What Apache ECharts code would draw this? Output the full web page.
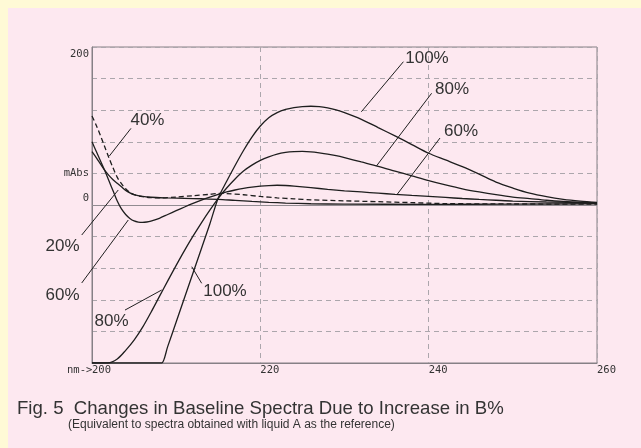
<!DOCTYPE html>
<html>
<head>
<meta charset="utf-8">
<script src="https://cdn.jsdelivr.net/npm/echarts@6/dist/echarts.min.js"></script>
<style>
html,body{margin:0;padding:0;background:#fffad6;}
#c{width:641px;height:448px;}
</style>
</head>
<body>
<div id="c"></div>
<script>
// ---- data (wavelength nm, absorbance mAbs) ----
const wl100 = [200, 208.0, 208.3, 209, 210, 212, 214, 215, 216, 217, 218, 219, 220, 221, 222, 223, 224, 225, 226, 227, 228, 229, 230, 232, 234, 236, 238, 240, 242, 244, 246, 248, 250, 252, 254, 256, 258, 260];
const abs100 = [-200, -200, -200, -179, -148, -86, -24, 9, 30, 50, 69, 86, 100, 110.5, 117, 121, 123.3, 124.6, 125, 124.6, 123, 120.5, 117, 108.5, 98, 87.5, 76.5, 65.5, 57, 48.5, 39, 29, 21.5, 15, 10.5, 7.2, 5, 3.4];

const wl80 = [200, 201.9, 203, 204, 205, 206, 207, 208, 209, 210, 211, 212, 213, 214, 215, 216, 217, 218, 219, 220, 221, 222, 223, 224, 225, 226, 227, 228, 229, 230, 232, 234, 236, 238, 240, 242, 244, 246, 248, 250, 252, 254, 256, 258, 260];
const abs80 = [-200, -200, -195, -184, -171, -155, -136, -116, -96, -76.5, -57.5, -39.5, -22.5, -6.5, 8.5, 21.5, 33, 43, 50.5, 56.5, 61, 64.5, 66.5, 67.5, 67.8, 67.2, 66, 64.5, 62.5, 60, 54.5, 49, 43, 37, 31, 25.5, 20.5, 16.5, 13, 10, 8, 6, 4.5, 3.5, 3];

const wl60 = [200, 200.5, 201, 201.5, 202, 202.5, 203, 203.5, 204, 204.5, 205, 205.5, 206, 206.5, 207, 208, 209, 210, 211, 212, 213, 214, 215, 216, 217, 218, 219, 220, 221, 222, 223, 224, 226, 228, 230, 232, 234, 236, 238, 240, 242, 244, 246, 248, 250, 254, 260];
const abs60 = [80, 68, 56, 44, 31, 18, 5, -5, -12, -17, -20.2, -21.6, -22, -21.5, -20.3, -16.8, -12, -7.2, -2.5, 2, 6.2, 10, 13.5, 16.5, 19, 21, 22.6, 23.8, 24.6, 25, 24.7, 24, 22, 19.8, 18, 16.5, 15, 13.5, 12.2, 11, 9.6, 8.2, 7, 6, 5, 3.8, 2.5];

const wl40 = [200, 200.5, 201, 201.5, 202, 202.5, 203, 203.5, 204, 204.5, 205, 206, 207, 208, 210, 212, 214, 215.2, 216, 218, 220, 222, 224, 226, 230, 234, 238, 242, 250, 260];
const abs40 = [112.7, 101, 88, 74, 60, 47, 35, 27, 20.5, 16, 13, 10.5, 9.4, 9, 10, 11.8, 13.5, 14.8, 14.5, 13, 10.8, 9, 7.8, 6.6, 5.3, 4.2, 3, 1.8, 1.3, 1.2];

const wl20 = [200, 200.5, 201, 201.5, 202, 202.5, 203, 203.5, 204, 204.5, 205, 206, 207, 209, 211, 213, 215, 217, 219, 221, 223, 226, 230, 240, 250, 260];
const abs20 = [67.5, 60, 52, 44, 37.5, 32, 27.5, 23, 18.5, 15.3, 13, 10.8, 9.8, 9, 8.4, 7.9, 7.2, 5.8, 4.5, 3.4, 2.5, 1.6, 1.1, 0.9, 1.1, 1.6];

// axis ticks
const xTicks = [200, 220, 240, 260];
const yTickLabels = {200: '200', 40: 'mAbs', 0: '0'};

// annotations (data coordinates)
const annoText = ['100%', '80%', '60%', '40%', '20%', '60%', '80%', '100%'];
const annoAt = [[239.8, 186.1], [242.77, 146.8], [243.84, 93.7], [206.59, 107.6], [196.5, -52.5], [196.5, -113.9], [202.32, -147.5], [215.8, -108.9]];
const leadFrom = [[237.0, 181.4], [240.35, 141.4], [241.35, 84.8], [204.63, 97], [198.78, -38], [198.78, -98.7], [203.92, -133], [213.03, -99.1]];
const leadTo = [[232.0, 118], [233.8, 49.4], [236.2, 12.7], [202.06, 62], [203.12, 19], [204.31, -19], [208.28, -107.6], [211.85, -78.1]];

const captionMain = 'Fig. 5  Changes in Baseline Spectra Due to Increase in B%';
const captionSub = '(Equivalent to spectra obtained with liquid A as the reference)';

function pairs(xs, ys) { return xs.map((x, i) => [x, ys[i]]); }

const chart = echarts.init(document.getElementById('c'), null, {renderer: 'canvas'});
const ink = '#1e1e1e';
const monoFont = '"DejaVu Sans Mono", monospace';
const sans = '"Liberation Sans", Arial, sans-serif';

function curve(name, xs, ys, dashed) {
  return {
    name: name, type: 'line', data: pairs(xs, ys), showSymbol: false, symbol: 'none',
    smooth: 0.3, silent: true, z: 5,
    lineStyle: {color: ink, width: 1.3, type: dashed ? [5, 3] : 'solid'}
  };
}

const option = {
  backgroundColor: '#fde8f0',
  animation: false,
  title: [
    {text: captionMain, left: 17, top: 399, padding: 0,
     textStyle: {fontFamily: sans, fontSize: 18.6, fontWeight: 'normal', color: '#333'}},
    {text: captionSub, left: 68, top: 419, padding: 0,
     textStyle: {fontFamily: sans, fontSize: 12, fontWeight: 'normal', color: '#333'}}
  ],
  grid: {left: 92, right: 44, top: 47, bottom: 85, show: true, borderColor: '#868086', borderWidth: 1, backgroundColor: 'transparent'},
  xAxis: {
    type: 'value', min: 200, max: 260, interval: 20,
    name: 'nm->', nameLocation: 'start', nameGap: 25, nameMoveOverlap: false,
    nameTextStyle: {fontFamily: monoFont, fontSize: 10.5, color: '#333', align: 'left', verticalAlign: 'top', padding: [2, 0, 0, 0]},
    axisLine: {show: true, onZero: false, lineStyle: {color: '#868086'}},
    axisTick: {show: false},
    axisLabel: {fontFamily: monoFont, fontSize: 10.5, color: '#333', align: 'left', margin: 2,
      formatter: v => xTicks.indexOf(v) >= 0 ? String(v) : ''},
    splitLine: {show: true, lineStyle: {color: '#aca6ac', type: [5, 4], width: 1}}
  },
  yAxis: {
    type: 'value', min: -200, max: 200, interval: 40,
    axisLine: {show: true, onZero: false, lineStyle: {color: '#868086'}},
    axisTick: {show: false},
    axisLabel: {fontFamily: monoFont, fontSize: 10.5, color: '#333', margin: 3,
      formatter: v => {
        const t = yTickLabels[v];
        if (t === undefined) return '';
        if (v === 200) return '{lo|' + t + '}';
        if (v === 0) return '{hi|' + t + '}';
        return t;
      },
      rich: {
        lo: {fontFamily: monoFont, fontSize: 10.5, color: '#333', padding: [14, 0, 0, 0]},
        hi: {fontFamily: monoFont, fontSize: 10.5, color: '#333', padding: [0, 0, 14, 0]}
      }
    },
    splitLine: {show: true, lineStyle: {color: '#aca6ac', type: [5, 4], width: 1}}
  },
  series: [
    {
      name: 'zero', type: 'line', data: [], silent: true,
      markLine: {silent: true, symbol: 'none', label: {show: false},
        lineStyle: {color: '#918b91', type: 'solid', width: 1},
        data: [{yAxis: 0}]}
    },
    curve('20%', wl20, abs20, false),
    curve('40%', wl40, abs40, true),
    curve('60%', wl60, abs60, false),
    curve('80%', wl80, abs80, false),
    curve('100%', wl100, abs100, false)
  ]
};
chart.setOption(option);

const g = [
  {type: 'rect', shape: {x: 0, y: 0, width: 641, height: 8}, style: {fill: '#fffad6'}, silent: true},
  {type: 'rect', shape: {x: 0, y: 0, width: 8, height: 448}, style: {fill: '#fffad6'}, silent: true}
];
for (let i = 0; i < annoText.length; i++) {
  const p = chart.convertToPixel({gridIndex: 0}, annoAt[i]);
  const a = chart.convertToPixel({gridIndex: 0}, leadFrom[i]);
  const b = chart.convertToPixel({gridIndex: 0}, leadTo[i]);
  g.push({type: 'line', silent: true, z: 10, shape: {x1: a[0], y1: a[1], x2: b[0], y2: b[1]}, style: {stroke: ink, lineWidth: 1}});
  g.push({type: 'text', silent: true, z: 10, x: p[0], y: p[1],
    style: {text: annoText[i], fontFamily: sans, fontSize: 17, fill: '#333', textAlign: 'center', textVerticalAlign: 'middle'}});
}
chart.setOption({graphic: g});
</script>
</body>
</html>
